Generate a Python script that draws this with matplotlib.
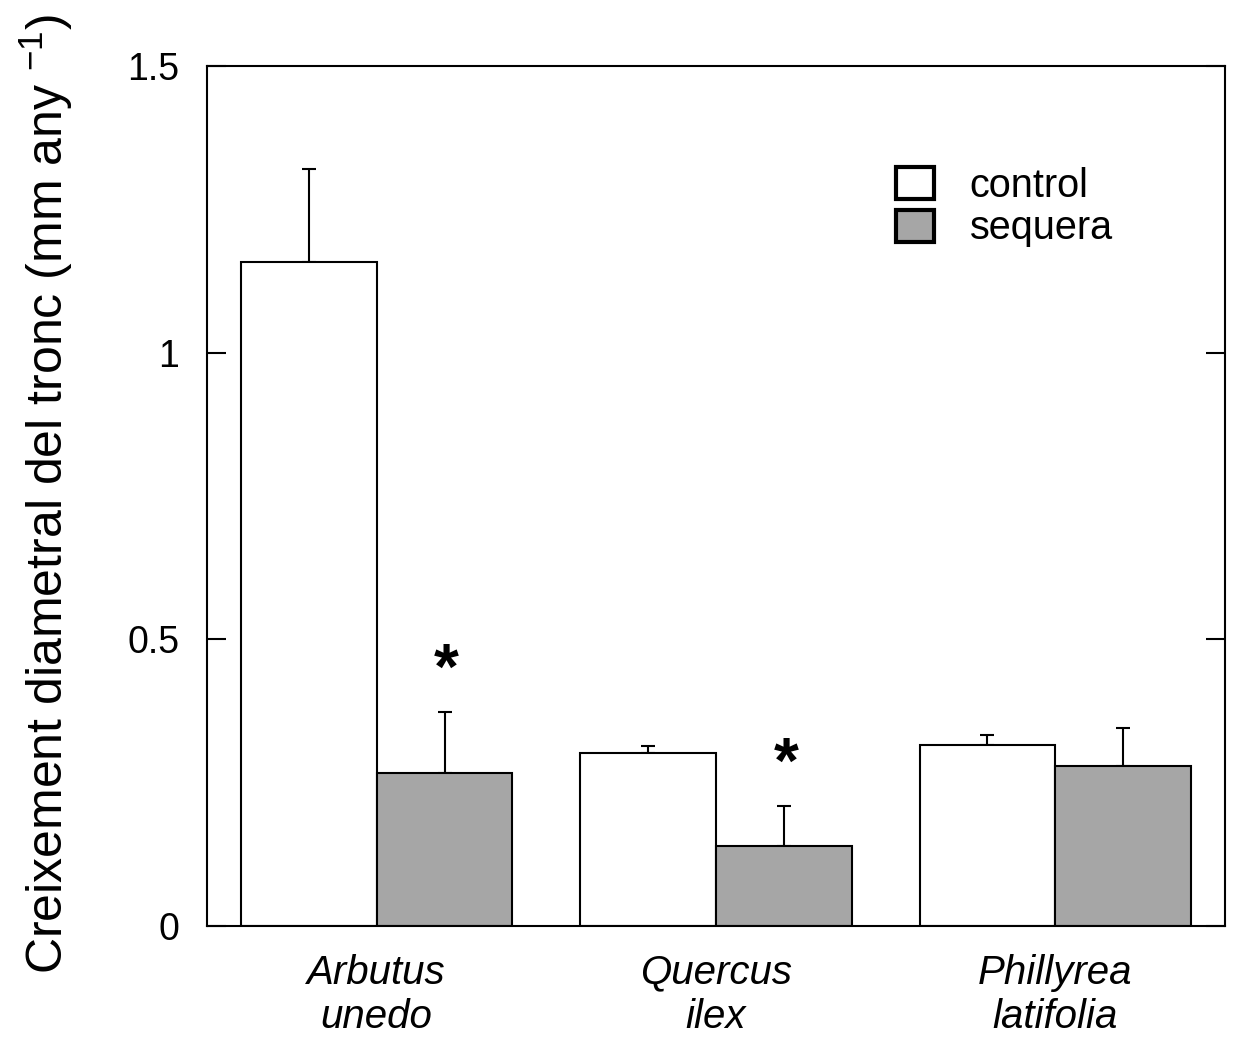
import matplotlib
matplotlib.use("Agg")
import matplotlib.pyplot as plt
from matplotlib.patches import Patch
import numpy as np

plt.rcParams['font.family'] = ['Liberation Sans', 'DejaVu Sans']
plt.rcParams['mathtext.fontset'] = 'custom'
plt.rcParams['mathtext.rm'] = 'Liberation Sans'
plt.rcParams['mathtext.it'] = 'Liberation Sans:italic'

# dades
especies = ["Arbutus\nunedo", "Quercus\nilex", "Phillyrea\nlatifolia"]
control = [1.158, 0.302, 0.316]
control_err = [0.162, 0.012, 0.017]
sequera = [0.267, 0.140, 0.279]
sequera_err = [0.106, 0.069, 0.066]
signif = [True, True, False]  # asterisc sobre sequera

x = np.arange(1, len(especies) + 1)
w = 0.4
gris = "#A6A6A6"

fig = plt.figure(figsize=(12.36, 10.49), dpi=100)
ax = fig.add_axes([0.1675, 0.1173, 0.8236, 0.8198])

ax.bar(x - w / 2, control, w, color="white", edgecolor="black", linewidth=1.5, zorder=2)
ax.bar(x + w / 2, sequera, w, color=gris, edgecolor="black", linewidth=1.5, zorder=2)

# barres d'error (només part superior)
ax.errorbar(x - w / 2, control, yerr=[np.zeros(3), control_err], fmt="none",
            ecolor="black", elinewidth=1.5, capsize=5, capthick=1.5, zorder=1)
ax.errorbar(x + w / 2, sequera, yerr=[np.zeros(3), sequera_err], fmt="none",
            ecolor="black", elinewidth=1.5, capsize=5, capthick=1.5, zorder=1)

for xi, v, e, s in zip(x, sequera, sequera_err, signif):
    if s:
        ax.text(xi + w / 2 + 0.006, v + e + 0.07, "*", ha="center", va="center",
                fontsize=46, fontweight="bold")

ax.set_xlim(0.5, 3.5)
ax.set_ylim(0, 1.5)
ax.set_yticks([0, 0.5, 1, 1.5])
ax.set_yticklabels(["0", "0.5", "1", "1.5"])
ax.set_xticks(x)
ax.set_xticklabels(especies, fontstyle="italic", fontsize=29, linespacing=1.2)
ax.tick_params(axis="x", length=0, pad=20)
ax.tick_params(axis="y", direction="in", length=14, width=1.5, labelsize=27,
               pad=20, right=True)

for sp in ax.spines.values():
    sp.set_linewidth(1.5)

ax.set_ylabel("Creixement diametral del tronc (mm any $^{\\rm{-1}}$)", fontsize=36)
ax.yaxis.set_label_coords(-0.13, 0.503)

handles = [Patch(facecolor="white", edgecolor="black", linewidth=3),
           Patch(facecolor=gris, edgecolor="black", linewidth=3)]
ax.legend(handles, ["control", "sequera"], loc="upper left",
          bbox_to_anchor=(0.677, 0.883), frameon=False, fontsize=28.5,
          handlelength=0.96, handleheight=0.88, handletextpad=0.9,
          labelspacing=0.12, borderpad=0, borderaxespad=0)

fig.savefig("out.png", dpi=100)
